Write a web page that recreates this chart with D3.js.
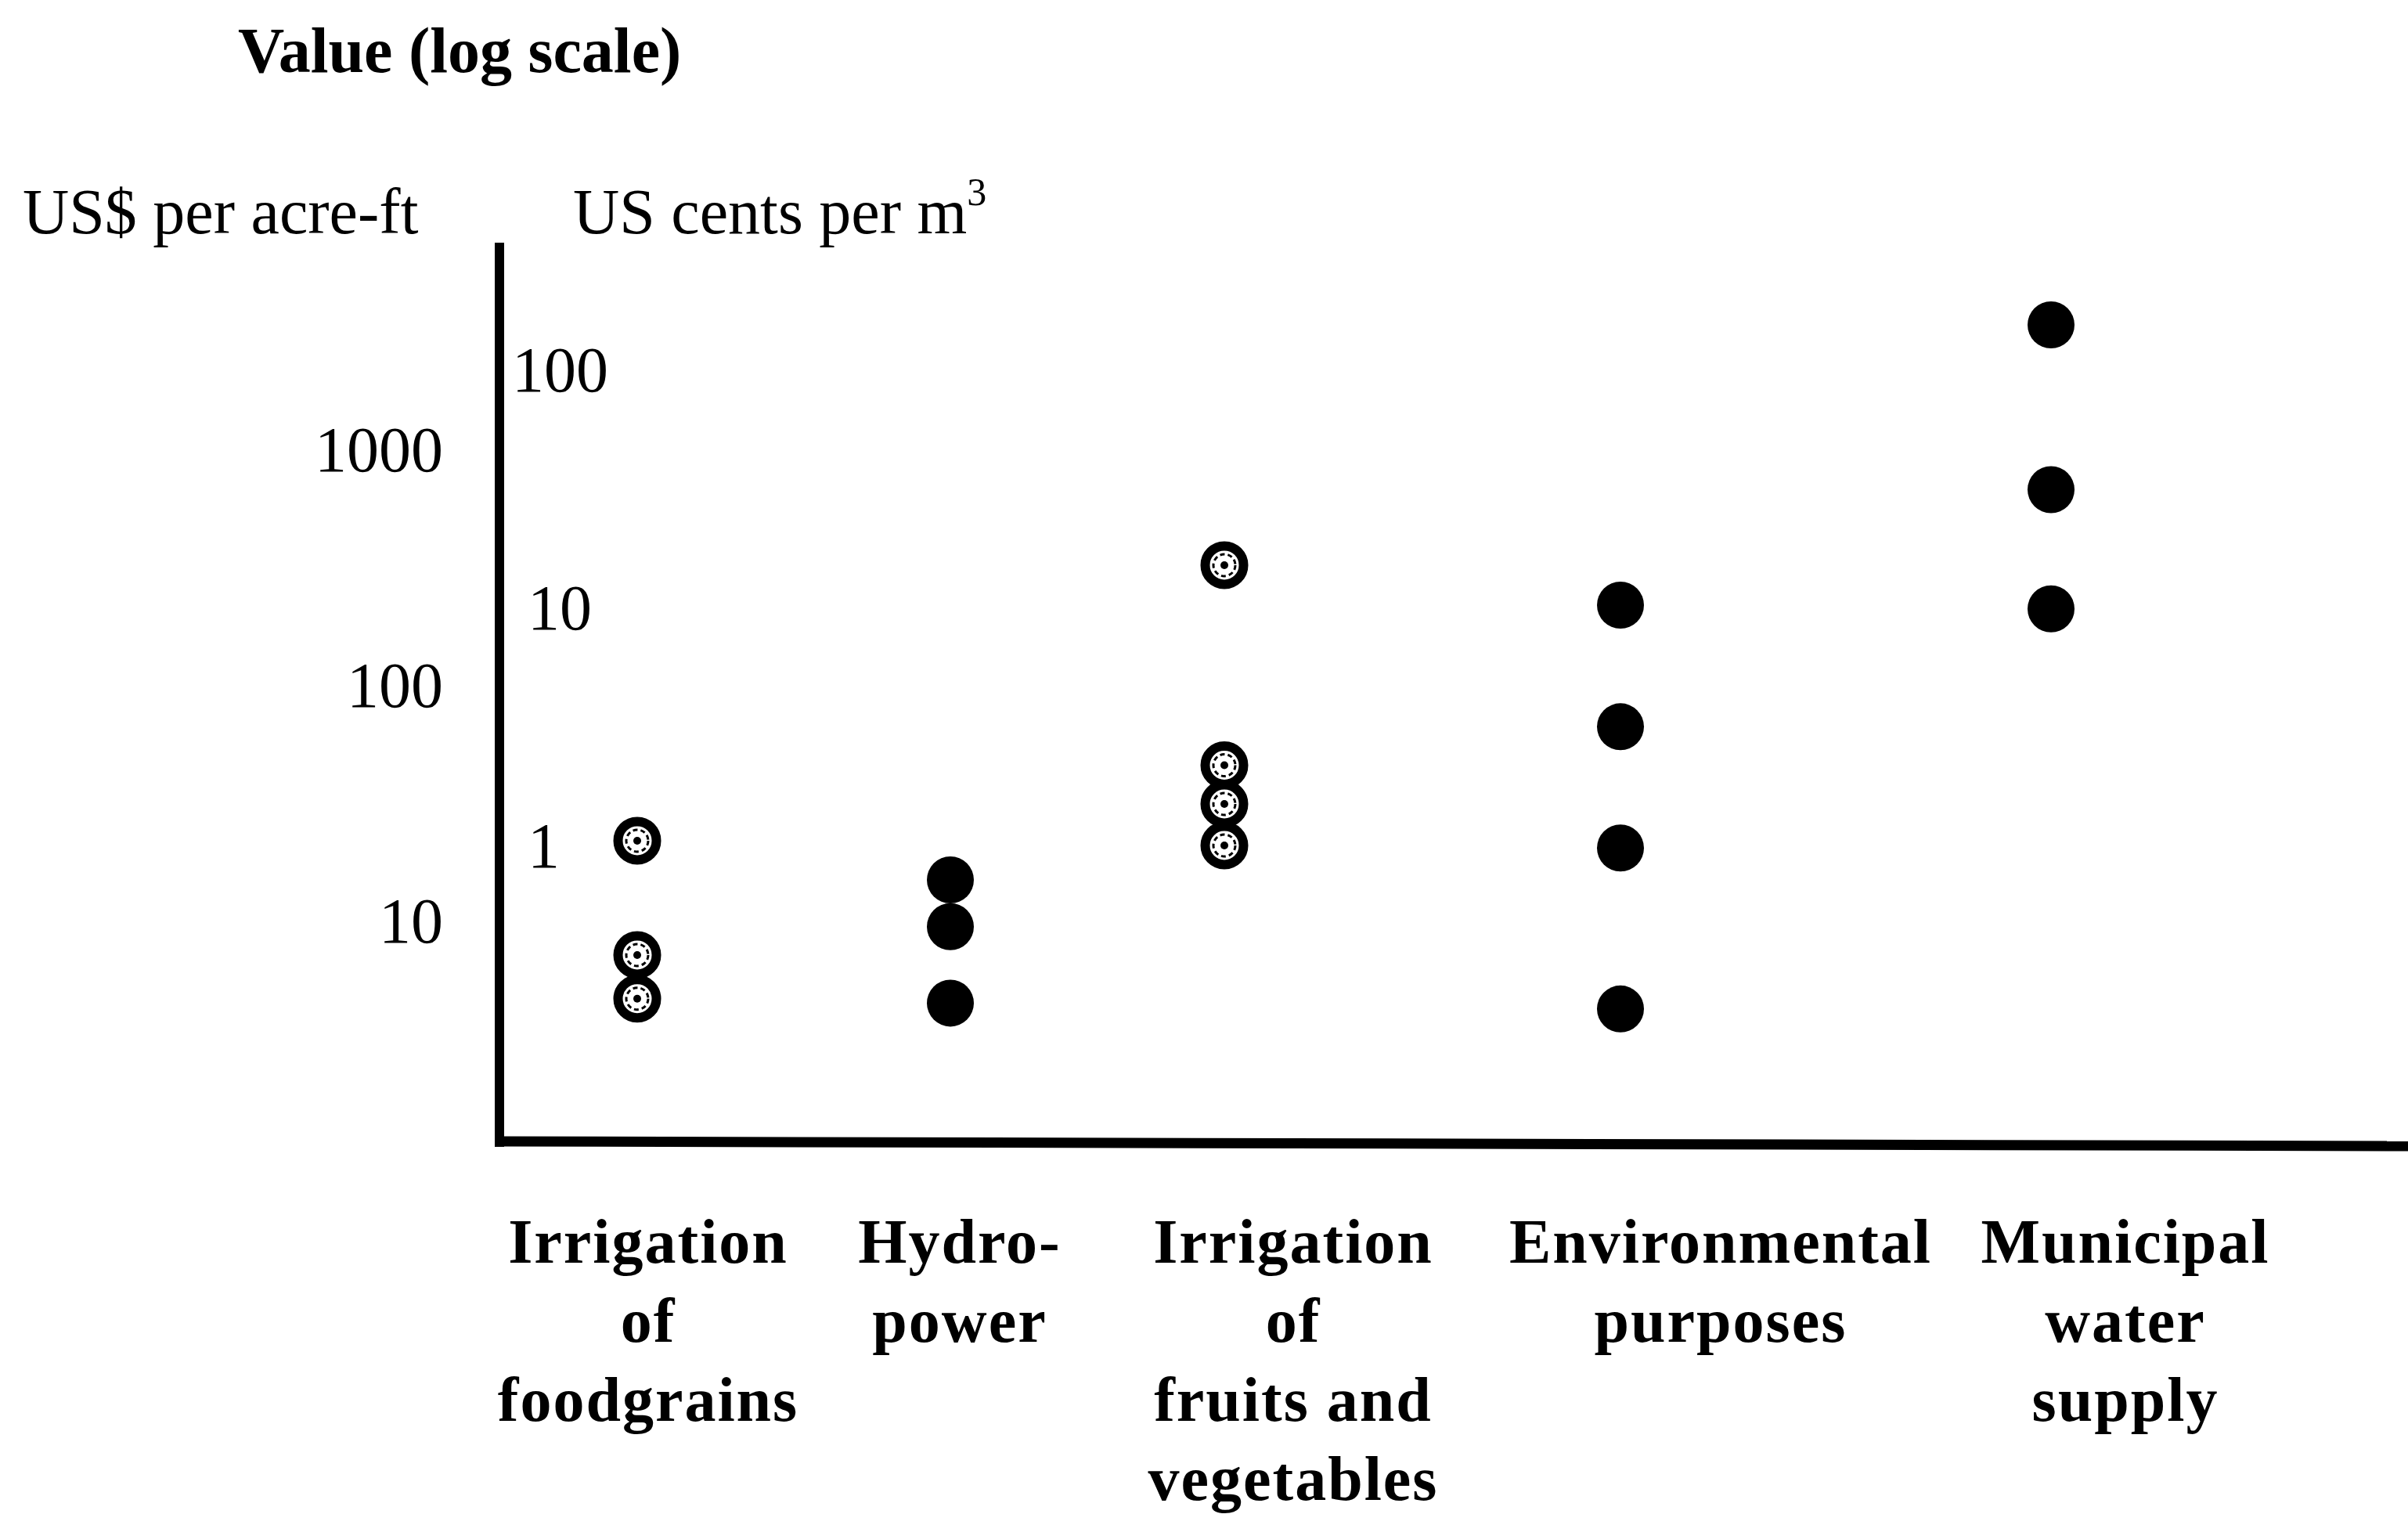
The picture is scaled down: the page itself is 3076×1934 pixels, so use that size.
<!DOCTYPE html>
<html>
<head>
<meta charset="utf-8">
<script src="https://cdn.jsdelivr.net/npm/d3@7"></script>
<style>
  html, body { margin: 0; padding: 0; background: #fff; }
  svg { display: block; }
  text { font-family: "Liberation Serif", "Times New Roman", serif; fill: #000; }
</style>
</head>
<body>
<svg id="chart" width="3076" height="1934"></svg>
<script>
// ---------------- DATA ----------------
const categories = [
  "Irrigation of foodgrains",
  "Hydro-power",
  "Irrigation of fruits and vegetables",
  "Environmental purposes",
  "Municipal water supply"
];
const categoryLines = [
  ["Irrigation", "of", "foodgrains"],
  ["Hydro-", "power"],
  ["Irrigation", "of", "fruits and", "vegetables"],
  ["Environmental", "purposes"],
  ["Municipal", "water", "supply"]
];
// values in US$ per acre-ft
const foodgrainsValues   = [22, 7.2, 4.7];
const hydroValues        = [15, 9.5, 4.5];
const fruitsVegValues    = [325, 46, 31.5, 21];
const environmentValues  = [220, 67, 20.5, 4.25];
const municipalValues    = [3400, 680, 212];
// marker style per category: hollow (patterned) or filled
const markerKinds = ["hollow", "filled", "hollow", "filled", "filled"];
// tick labels
const dollarTicks = [10, 100, 1000];
const centTicks   = [1, 10, 100];
const titleText   = "Value (log scale)";
const leftUnit    = "US$ per acre-ft";
const rightUnit   = "US cents per m";

const seriesValues = [foodgrainsValues, hydroValues, fruitsVegValues, environmentValues, municipalValues];

// ---------------- LAYOUT ----------------
const svg = d3.select("#chart");
const axisX = 638, axisTop = 310, axisBottom = 1458, axisRight = 3076;

const yDollar = d3.scaleLog().domain([10, 1000]).range([1177, 575]);
const yCents  = d3.scaleLog().domain([1, 100]).range([1081, 473]);

const xMarker = d3.scaleOrdinal().domain(categories).range([814, 1214, 1564, 2070, 2620]);
const xLabel  = d3.scaleOrdinal().domain(categories).range([828, 1226, 1652, 2198, 2715]);

// titles
svg.append("text")
  .attr("x", 304).attr("y", 92)
  .attr("font-size", 82).attr("font-weight", "bold")
  .text(titleText);

svg.append("text")
  .attr("x", 29).attr("y", 298)
  .attr("font-size", 82)
  .text(leftUnit);

const ru = svg.append("text")
  .attr("x", 732).attr("y", 298)
  .attr("font-size", 82)
  .text(rightUnit);
ru.append("tspan").attr("font-size", 50).attr("dy", -36).text("3");

// axes lines
svg.append("line")
  .attr("x1", axisX).attr("x2", axisX)
  .attr("y1", axisTop).attr("y2", axisBottom + 7)
  .attr("stroke", "#000").attr("stroke-width", 12);
svg.append("line")
  .attr("x1", axisX - 6).attr("x2", axisRight)
  .attr("y1", axisBottom).attr("y2", axisBottom + 6)
  .attr("stroke", "#000").attr("stroke-width", 13);

// left axis labels (US$ per acre-ft)
const leftAxis = svg.append("g")
  .attr("transform", `translate(${axisX},0)`)
  .call(d3.axisLeft(yDollar).tickValues(dollarTicks).tickSize(0).tickPadding(72).tickFormat(d3.format("d")));
leftAxis.select(".domain").remove();
leftAxis.selectAll("text")
  .attr("font-size", 82).attr("font-family", "Liberation Serif").attr("fill", "#000");

// right-of-axis labels (US cents per m3)
const rightAxis = svg.append("g")
  .attr("transform", `translate(${axisX},0)`)
  .call(d3.axisRight(yCents).tickValues(centTicks).tickSize(0).tickPadding(36).tickFormat(d3.format("d")));
rightAxis.select(".domain").remove();
rightAxis.selectAll("text")
  .attr("font-size", 82).attr("font-family", "Liberation Serif").attr("fill", "#000");
rightAxis.selectAll(".tick").filter(d => d === 100).select("text").attr("dx", -20);

// markers
const points = [];
categories.forEach((c, i) => {
  seriesValues[i].forEach(v => points.push({cat: c, value: v, kind: markerKinds[i]}));
});

const g = svg.append("g");
const filled = points.filter(p => p.kind === "filled");
const hollow = points.filter(p => p.kind === "hollow");

g.selectAll("circle.filled").data(filled).join("circle")
  .attr("class", "filled")
  .attr("cx", d => xMarker(d.cat))
  .attr("cy", d => yDollar(d.value))
  .attr("r", 30)
  .attr("fill", "#000");

const hg = g.selectAll("g.hollow").data(hollow).join("g")
  .attr("class", "hollow")
  .attr("transform", d => `translate(${xMarker(d.cat)},${yDollar(d.value)})`);
hg.append("circle").attr("r", 24.5).attr("fill", "#fff").attr("stroke", "#000").attr("stroke-width", 12);
hg.append("circle").attr("r", 14).attr("fill", "none").attr("stroke", "#000").attr("stroke-width", 3).attr("stroke-dasharray", "6 4");
hg.append("circle").attr("r", 5).attr("fill", "#000");

// category labels
const lg = svg.append("g");
categories.forEach((c, i) => {
  const t = lg.append("text")
    .attr("text-anchor", "middle")
    .attr("font-size", 80).attr("font-weight", "bold")
    .attr("letter-spacing", 2);
  categoryLines[i].forEach((line, j) => {
    t.append("tspan")
      .attr("x", xLabel(c))
      .attr("y", 1613 + j * 101)
      .text(line);
  });
});
</script>
</body>
</html>
